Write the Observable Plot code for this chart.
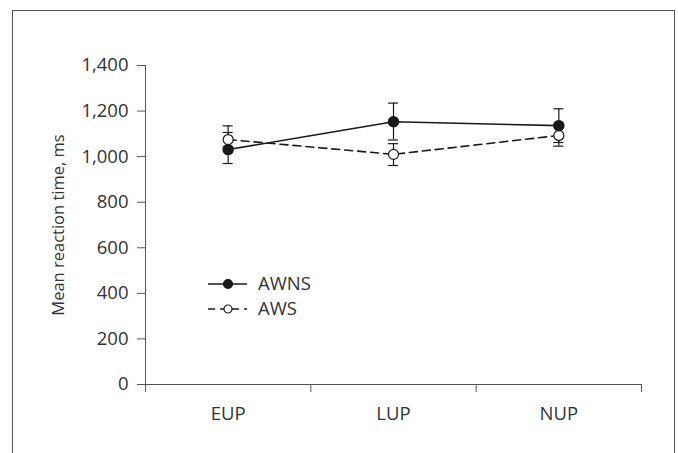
<!DOCTYPE html>
<html>
<head>
<meta charset="utf-8">
<script src="https://cdn.jsdelivr.net/npm/d3@7"></script>
<script src="https://cdn.jsdelivr.net/npm/@observablehq/plot@0.6"></script>
<style>
  html, body { margin: 0; padding: 0; background: #fff; }
  #wrap { position: relative; width: 678px; height: 453px; overflow: hidden; font-family: "Open Sans", "Noto Sans", sans-serif; }
  #frame { position: absolute; left: 12px; top: 10px; width: 663px; height: 500px; border: 1px solid #555; box-sizing: border-box; }
  #chart { position: absolute; left: 0; top: 0; }
  #legend { position: absolute; left: 200px; top: 262px; }
</style>
</head>
<body>
<div id="wrap">
  <div id="frame"></div>
  <div id="chart"></div>
  <div id="legend"></div>
</div>
<script>
const categories = ["EUP", "LUP", "NUP"];
const seriesNames = ["AWNS", "AWS"];
const awnsMean = [1031, 1153, 1136];
const awnsLow  = [970, 1073, 1062];
const awnsHigh = [1135, 1235, 1210];
const awsMean  = [1075, 1010, 1093];
const awsLow   = [1044, 961, 1046];
const awsHigh  = [1106, 1057, 1140];
const yTicks = [0, 200, 400, 600, 800, 1000, 1200, 1400];

const rows = [];
categories.forEach((c, i) => {
  rows.push({series: "AWNS", i: i + 0.5, cat: c, mean: awnsMean[i], lo: awnsLow[i], hi: awnsHigh[i]});
  rows.push({series: "AWS", i: i + 0.5, cat: c, mean: awsMean[i], lo: awsLow[i], hi: awsHigh[i]});
});
const awns = rows.filter(d => d.series === "AWNS");
const aws = rows.filter(d => d.series === "AWS");
const ink = "#1a1a1a";
const txt = "#333";
const fs = 18.5;

const chart = Plot.plot({
  width: 678,
  height: 453,
  marginLeft: 145,
  marginRight: 37,
  marginTop: 65,
  marginBottom: 69,
  style: {fontFamily: "'Open Sans', 'Noto Sans', sans-serif", fontSize: fs + "px", color: txt, background: "transparent"},
  x: {type: "linear", domain: [0, categories.length]},
  y: {domain: [0, 1400]},
  marks: [
    Plot.axisY({ticks: yTicks, tickFormat: d3.format(","), tickSize: 8, tickPadding: 9, label: null, stroke: "#555", fill: txt, fontSize: fs}),
    Plot.text(["Mean reaction time, ms"], {frameAnchor: "left", textAnchor: "middle", rotate: -90, dx: -87, fill: txt, fontSize: 16.5}),
    Plot.axisX({ticks: d3.range(categories.length + 1), tickFormat: () => "", tickSize: 8, label: null, stroke: "#555"}),
    Plot.axisX({ticks: categories.map((c, i) => i + 0.5), tickFormat: d => categories[Math.round(d - 0.5)], tickSize: 0, tickPadding: 22, label: null, fill: txt, fontSize: fs}),
    Plot.ruleX([0], {y1: 0, y2: 1400, stroke: "#555"}),
    Plot.ruleY([0], {stroke: "#555"}),
    // error bars
    Plot.ruleX(rows, {x: "i", y1: "lo", y2: "hi", stroke: ink, strokeWidth: 1.2}),
    Plot.ruleY(rows, {y: "lo", x1: "i", x2: "i", insetLeft: -5, insetRight: -5, stroke: ink, strokeWidth: 1.2}),
    Plot.ruleY(rows, {y: "hi", x1: "i", x2: "i", insetLeft: -5, insetRight: -5, stroke: ink, strokeWidth: 1.2}),
    // lines
    Plot.line(aws, {x: "i", y: "mean", stroke: ink, strokeWidth: 1.6, strokeDasharray: "8,5"}),
    Plot.line(awns, {x: "i", y: "mean", stroke: ink, strokeWidth: 1.6}),
    Plot.dot(aws, {x: "i", y: "mean", r: 5, fill: "white", stroke: ink, strokeWidth: 1.2}),
    Plot.dot(awns, {x: "i", y: "mean", r: 5, fill: ink, stroke: ink})
  ]
});
document.getElementById("chart").appendChild(chart);

// legend
const lg = d3.select("#legend").append("svg").attr("width", 200).attr("height", 70)
  .style("font-family", "'Open Sans', 'Noto Sans', sans-serif").style("overflow", "visible");
seriesNames.forEach((name, k) => {
  const g = lg.append("g").attr("transform", `translate(0,${22 + k * 25})`);
  g.append("line").attr("x1", 8).attr("x2", 47).attr("y1", 0).attr("y2", 0)
    .attr("stroke", ink).attr("stroke-width", 1.6).attr("stroke-dasharray", k ? "7,5" : null);
  g.append("circle").attr("cx", 28).attr("cy", 0).attr("r", k ? 4 : 4.5)
    .attr("fill", k ? "white" : ink).attr("stroke", ink).attr("stroke-width", 1.2);
  g.append("text").attr("x", 58).attr("y", 0).attr("dy", "0.35em").attr("font-size", fs).attr("fill", txt).text(name);
});
</script>
</body>
</html>
